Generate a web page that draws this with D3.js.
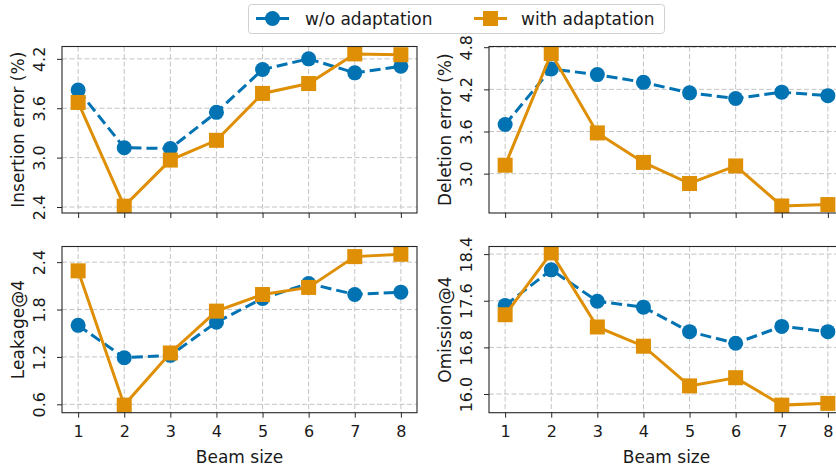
<!DOCTYPE html>
<html>
<head>
<meta charset="utf-8">
<script src="https://cdn.jsdelivr.net/npm/d3@7"></script>
<style>
  body { margin: 0; background: #fff; }
  text { font-family: "DejaVu Sans", sans-serif; fill: #1a1a1a; }
</style>
</head>
<body>
<svg id="chart" width="836" height="470"></svg>
<script>
// beam sizes on the x axis
const beam_sizes = [1, 2, 3, 4, 5, 6, 7, 8]
const series_names = ["w/o adaptation", "with adaptation"]

// values, one pair of arrays per panel
const insertion_wo = [3.82, 3.12, 3.11, 3.55, 4.07, 4.20, 4.03, 4.11]
const insertion_with = [3.67, 2.41, 2.97, 3.21, 3.78, 3.90, 4.26, 4.25]
const deletion_wo = [3.70, 4.49, 4.41, 4.30, 4.15, 4.07, 4.16, 4.11]
const deletion_with = [3.12, 4.71, 3.58, 3.16, 2.86, 3.11, 2.54, 2.56]
const leakage_wo = [1.60, 1.19, 1.22, 1.64, 1.94, 2.13, 1.99, 2.02]
const leakage_with = [2.29, 0.59, 1.25, 1.78, 1.99, 2.08, 2.47, 2.50]
const omission_wo = [17.52, 18.13, 17.59, 17.49, 17.07, 16.87, 17.16, 17.07]
const omission_with = [17.36, 18.42, 17.15, 16.82, 16.14, 16.28, 15.81, 15.84]

const insertion_ticks = [2.4, 3.0, 3.6, 4.2]
const deletion_ticks = [3.0, 3.6, 4.2, 4.8]
const leakage_ticks = [0.6, 1.2, 1.8, 2.4]
const omission_ticks = [16.0, 16.8, 17.6, 18.4]

const blue = "#0173b2", orange = "#de8f05"

const svg = d3.select("#chart")

const panels = [
  {id: "ins", label: "Insertion error (%)", wo: insertion_wo, wa: insertion_with, ticks: insertion_ticks,
   dom: [2.327, 4.35], x0: 62, y0: 46.5, y1: 213, xlabels: false},
  {id: "del", label: "Deletion error (%)", wo: deletion_wo, wa: deletion_with, ticks: deletion_ticks,
   dom: [2.44, 4.81], x0: 489, y0: 46.5, y1: 213, xlabels: false},
  {id: "leak", label: "Leakage@4", wo: leakage_wo, wa: leakage_with, ticks: leakage_ticks,
   dom: [0.494, 2.598], x0: 62, y0: 246.5, y1: 412.7, xlabels: true},
  {id: "omi", label: "Omission@4", wo: omission_wo, wa: omission_with, ticks: omission_ticks,
   dom: [15.68, 18.53], x0: 489, y0: 246.5, y1: 412.7, xlabels: true}
]
const panel_w = 355

function draw_marker(g, kind, color, cx, cy) {
  if (kind == "circle") {
    g.append("circle").attr("cx", cx).attr("cy", cy).attr("r", 7.5).attr("fill", color)
  } else {
    g.append("rect").attr("x", cx - 7.5).attr("y", cy - 7.5).attr("width", 15).attr("height", 15).attr("fill", color)
  }
}

panels.forEach((p) => {
  const x = d3.scaleLinear().domain([0.65, 8.35]).range([p.x0, p.x0 + panel_w])
  const y = d3.scaleLinear().domain(p.dom).range([p.y1, p.y0])
  const g = svg.append("g")

  svg.append("clipPath").attr("id", "clip_" + p.id)
    .append("rect").attr("x", p.x0).attr("y", p.y0).attr("width", panel_w).attr("height", p.y1 - p.y0)

  // grid
  g.append("g").selectAll("line").data(beam_sizes).enter().append("line")
    .attr("x1", d => x(d)).attr("x2", d => x(d)).attr("y1", p.y0).attr("y2", p.y1)
    .attr("stroke", "#c4c4c4").attr("stroke-width", 1).attr("stroke-dasharray", "5,2.5")
  g.append("g").selectAll("line").data(p.ticks).enter().append("line")
    .attr("x1", p.x0).attr("x2", p.x0 + panel_w).attr("y1", d => y(d)).attr("y2", d => y(d))
    .attr("stroke", "#c4c4c4").attr("stroke-width", 1).attr("stroke-dasharray", "5,2.5")

  // axes
  const x_axis = d3.axisBottom(x).tickValues(beam_sizes).tickSize(5).tickPadding(8)
    .tickFormat(p.xlabels ? d3.format("d") : "")
  const xg = g.append("g").attr("transform", `translate(0,${p.y1})`).call(x_axis)
  xg.select(".domain").remove()
  xg.selectAll(".tick line").attr("stroke", "#262626")
  xg.selectAll(".tick text").attr("font-size", 16).attr("font-family", "DejaVu Sans").attr("fill", "#1a1a1a")

  const y_axis = d3.axisLeft(y).tickValues(p.ticks).tickSize(5).tickFormat(d3.format(".1f"))
  const yg = g.append("g").attr("transform", `translate(${p.x0},0)`).call(y_axis)
  yg.select(".domain").remove()
  yg.selectAll(".tick line").attr("stroke", "#262626")
  yg.selectAll(".tick text")
    .attr("font-size", 16).attr("font-family", "DejaVu Sans").attr("fill", "#1a1a1a")
    .attr("x", null).attr("dy", null)
    .attr("text-anchor", "middle").attr("dominant-baseline", "central")
    .attr("transform", "translate(-23,0) rotate(-90)")

  // lines and markers
  const line = d3.line().x((d, i) => x(beam_sizes[i])).y(d => y(d))
  const plot = g.append("g").attr("clip-path", `url(#clip_${p.id})`)
  plot.append("path").datum(p.wo).attr("d", line).attr("fill", "none")
    .attr("stroke", blue).attr("stroke-width", 3).attr("stroke-dasharray", "11,5")
  p.wo.forEach((v, i) => draw_marker(plot, "circle", blue, x(beam_sizes[i]), y(v)))
  plot.append("path").datum(p.wa).attr("d", line).attr("fill", "none")
    .attr("stroke", orange).attr("stroke-width", 3)
  p.wa.forEach((v, i) => draw_marker(plot, "square", orange, x(beam_sizes[i]), y(v)))

  // frame
  g.append("rect").attr("x", p.x0).attr("y", p.y0).attr("width", panel_w).attr("height", p.y1 - p.y0)
    .attr("fill", "none").attr("stroke", "#262626").attr("stroke-width", 1.1)

  // y label
  g.append("text").attr("transform", `translate(${p.x0 - 44},${(p.y0 + p.y1) / 2}) rotate(-90)`)
    .attr("text-anchor", "middle").attr("dominant-baseline", "central")
    .attr("font-size", 17).text(p.label)

  if (p.xlabels) {
    g.append("text").attr("x", p.x0 + panel_w / 2).attr("y", 457)
      .attr("text-anchor", "middle").attr("dominant-baseline", "central")
      .attr("font-size", 17).text("Beam size")
  }
})

// legend
const legend = svg.append("g")
legend.append("rect").attr("x", 248.5).attr("y", 4.5).attr("width", 416).attr("height", 29).attr("rx", 3)
  .attr("fill", "#fff").attr("stroke", "#d0d0d0").attr("stroke-width", 1)
const leg_items = [
  {name: series_names[0], color: blue, kind: "circle", lx: 256, tx: 305},
  {name: series_names[1], color: orange, kind: "square", lx: 474, tx: 521}
]
leg_items.forEach((d) => {
  legend.append("line").attr("x1", d.lx).attr("x2", d.lx + 33).attr("y1", 18.5).attr("y2", 18.5)
    .attr("stroke", d.color).attr("stroke-width", 3)
  draw_marker(legend, d.kind, d.color, d.lx + 16.5, 18.5)
  legend.append("text").attr("x", d.tx).attr("y", 18.5).attr("dominant-baseline", "central")
    .attr("font-size", 17).text(d.name)
})
</script>
</body>
</html>
